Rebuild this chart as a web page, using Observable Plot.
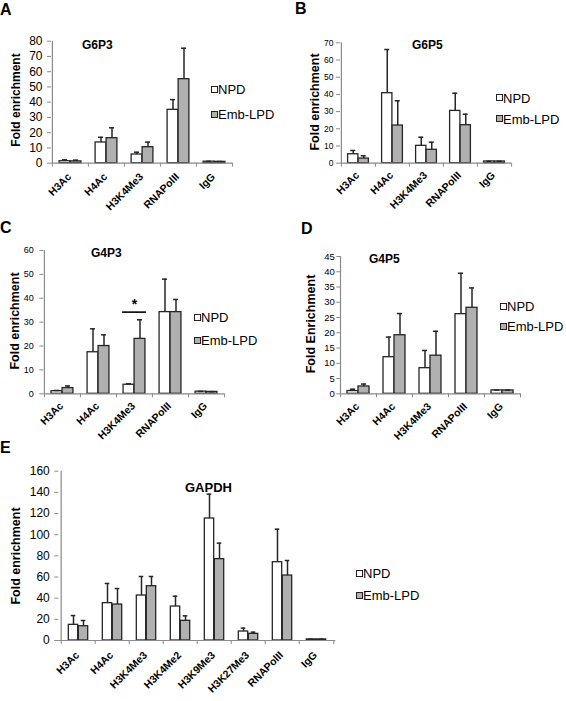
<!DOCTYPE html>
<html><head><meta charset="utf-8">
<script src="https://cdn.jsdelivr.net/npm/d3@7"></script>
<script src="https://cdn.jsdelivr.net/npm/@observablehq/plot@0.6"></script>
<style>
body{margin:0;background:#fff;font-family:"Liberation Sans",Arial,sans-serif;}
#page{position:relative;width:566px;height:701px;overflow:hidden;background:#fff;}
.abs{position:absolute;white-space:nowrap;line-height:1;color:#000;}
.panel{position:absolute;}
.sq{position:absolute;width:5px;height:5px;border:1px solid #222;}
</style></head><body><div id="page"></div>
<script>
// ---- data ----
const cats5 = ["H3Ac", "H4Ac", "H3K4Me3", "RNAPolII", "IgG"];
const cats8 = ["H3Ac", "H4Ac", "H3K4Me3", "H3K4Me2", "H3K9Me3", "H3K27Me3", "RNAPolII", "IgG"];
const series = ["NPD", "Emb-LPD"];

// A: G6P3
const aNPD = [1.3, 13.6, 5.7, 35.0, 1.0];
const aNPDerr = [0.9, 3.4, 1.5, 6.7, 0.2];
const aEmb = [1.2, 16.4, 10.5, 55.1, 0.9];
const aEmberr = [0.8, 6.8, 3.3, 20.3, 0.2];
// B: G6P5
const bNPD = [5.2, 40.7, 10.1, 30.4, 1.0];
const bNPDerr = [2.2, 25.4, 5.0, 10.3, 0.1];
const bEmb = [2.7, 21.9, 7.8, 22.1, 1.0];
const bEmberr = [1.6, 14.4, 4.4, 6.4, 0.1];
// C: G4P3
const cNPD = [1.1, 17.4, 3.8, 34.2, 0.9];
const cNPDerr = [0.3, 9.8, 0.4, 13.8, 0.1];
const cEmb = [2.4, 20.0, 23.0, 34.2, 0.8];
const cEmberr = [0.9, 4.7, 8.0, 5.3, 0.1];
const cSig = [{cat: "H3K4Me3", y: 34.2, label: "*"}];
// D: G4P5
const dNPD = [0.9, 12.0, 8.4, 26.1, 1.1];
const dNPDerr = [0.6, 6.6, 5.8, 13.4, 0.1];
const dEmb = [2.4, 19.2, 12.5, 28.2, 1.1];
const dEmberr = [0.8, 7.1, 8.0, 6.5, 0.1];
// E: GAPDH
const eNPD = [14.8, 35.3, 42.5, 32.1, 115.3, 8.5, 74.0, 1.0];
const eNPDerr = [8.8, 18.6, 18.0, 9.8, 23.0, 3.2, 31.2, 0.2];
const eEmb = [13.5, 34.0, 51.3, 18.6, 76.9, 6.3, 61.4, 1.0];
const eEmberr = [5.4, 15.1, 9.2, 4.7, 15.1, 1.6, 14.2, 0.2];

const ticksA = d3.range(0, 81, 10);
const ticksB = d3.range(0, 71, 10);
const ticksC = d3.range(0, 61, 10);
const ticksD = d3.range(0, 46, 5);
const ticksE = d3.range(0, 161, 20);

const page = document.getElementById("page");
const FONT = '"Liberation Sans", Arial, sans-serif';
const AXIS = "#8a8a8a";
const DARK = "#262626";
const GRAY = "#b0b0b0";

function panel(o) {
  const n = o.cats.length;
  const step = (o.width - o.mL - o.mR) / n;
  const half = step / 2;
  const bw = o.bw;
  const off = bw / 2;
  const capW = 2.6;
  const rowsN = o.cats.map((c, i) => ({cat: c, v: o.npd[i], e: o.npdErr[i]}));
  const rowsE = o.cats.map((c, i) => ({cat: c, v: o.emb[i], e: o.embErr[i]}));
  const marks = [
    Plot.barY(rowsN, {x: "cat", y: "v", fill: "#fff", stroke: DARK, strokeWidth: 1.3, insetLeft: half - bw, insetRight: half}),
    Plot.barY(rowsE, {x: "cat", y: "v", fill: GRAY, stroke: DARK, strokeWidth: 1.3, insetLeft: half, insetRight: half - bw}),
    Plot.ruleX(rowsN, {x: "cat", y1: "v", y2: d => d.v + d.e, dx: -off, stroke: DARK, strokeWidth: 1.5}),
    Plot.ruleX(rowsE, {x: "cat", y1: "v", y2: d => d.v + d.e, dx: off, stroke: DARK, strokeWidth: 1.5}),
    Plot.tickY(rowsN, {x: "cat", y: d => d.v + d.e, insetLeft: half - off - capW, insetRight: half + off - capW, stroke: DARK, strokeWidth: 1.5}),
    Plot.tickY(rowsE, {x: "cat", y: d => d.v + d.e, insetLeft: half + off - capW, insetRight: half - off - capW, stroke: DARK, strokeWidth: 1.5}),
    Plot.ruleY([0], {stroke: AXIS, strokeWidth: 1.2}),
    Plot.ruleX([o.cats[0]], {dx: -half, stroke: AXIS, strokeWidth: 1.2}),
    Plot.axisY({ticks: o.ticks, tickSize: 4, tickPadding: o.yPad, fontSize: o.yFont, stroke: AXIS, label: null}),
    Plot.axisX({tickSize: 4, tickFormat: () => "", dx: -half, stroke: AXIS, label: null}),
    Plot.axisX([o.cats[n - 1]], {tickSize: 4, tickFormat: () => "", dx: half, stroke: AXIS, label: null}),
    Plot.text(o.cats, {x: d => d, frameAnchor: "bottom", rotate: -45, textAnchor: "end", lineAnchor: "top",
      dx: -4, dy: o.xDy, fontSize: o.xFont, fontWeight: "bold", fill: "#000"})
  ];
  if (o.sig) {
    marks.push(Plot.tickY(o.sig, {x: "cat", y: "y", insetLeft: half - 12, insetRight: half - 12, stroke: "#000", strokeWidth: 1.6}));
    marks.push(Plot.text(o.sig, {x: "cat", y: "y", text: "label", dy: -8, fontSize: 14, fontWeight: "bold", lineAnchor: "middle"}));
  }
  const svg = Plot.plot({
    width: o.width, height: o.height,
    marginLeft: o.mL, marginRight: o.mR, marginTop: o.mT, marginBottom: o.mB,
    x: {domain: o.cats, padding: 0, label: null},
    y: {domain: [0, o.yMax], label: null},
    style: {fontFamily: FONT, background: "transparent", overflow: "visible", color: "#000"},
    marks
  });
  const div = document.createElement("div");
  div.className = "panel";
  div.style.left = o.left + "px";
  div.style.top = o.top + "px";
  div.style.width = o.width + "px";
  div.appendChild(svg);
  page.appendChild(div);
}

function txt(s, x, y, {size = 12, weight = "normal", rotate = false, center = false} = {}) {
  const d = document.createElement("div");
  d.className = "abs";
  d.textContent = s;
  d.style.fontSize = size + "px";
  d.style.fontWeight = weight;
  d.style.left = x + "px";
  d.style.top = y + "px";
  if (rotate) d.style.transform = "translate(-50%,-50%) rotate(-90deg)";
  else if (center) d.style.transform = "translate(-50%,-50%)";
  else d.style.transform = "translate(0,-50%)";
  page.appendChild(d);
}

function legend(x, y1, y2, size) {
  [[y1, "#fff", series[0]], [y2, GRAY, series[1]]].forEach(([y, fill, label]) => {
    const s = document.createElement("div");
    s.className = "sq";
    s.style.left = x + "px";
    s.style.top = (y - 3.5) + "px";
    s.style.background = fill;
    page.appendChild(s);
    txt(label, x + 7, y, {size});
  });
}

panel({cats: cats5, npd: aNPD, npdErr: aNPDerr, emb: aEmb, embErr: aEmberr, yMax: 80, ticks: ticksA,
  left: 0, top: 0, width: 283, height: 225, mL: 51, mR: 51, mT: 40.7, mB: 62.3, bw: 11, yFont: 12, yPad: 5, xFont: 10.5, xDy: 9});
panel({cats: cats5, npd: bNPD, npdErr: bNPDerr, emb: bEmb, embErr: bEmberr, yMax: 70, ticks: ticksB,
  left: 283, top: 0, width: 283, height: 225, mL: 57, mR: 55, mT: 42.3, mB: 62.3, bw: 10.5, yFont: 8.5, yPad: 3, xFont: 10.5, xDy: 7.5});
panel({cats: cats5, npd: cNPD, npdErr: cNPDerr, emb: cEmb, embErr: cEmberr, yMax: 60, ticks: ticksC, sig: cSig,
  left: 0, top: 215, width: 283, height: 230, mL: 43.3, mR: 59, mT: 35, mB: 51.7, bw: 11, yFont: 9, yPad: 6, xFont: 10.5, xDy: 7.5});
panel({cats: cats5, npd: dNPD, npdErr: dNPDerr, emb: dEmb, embErr: dEmberr, yMax: 45, ticks: ticksD,
  left: 283, top: 215, width: 283, height: 230, mL: 57.3, mR: 45.7, mT: 41, mB: 51.7, bw: 11, yFont: 9.5, yPad: 2, xFont: 10.5, xDy: 8});
panel({cats: cats8, npd: eNPD, npdErr: eNPDerr, emb: eEmb, embErr: eEmberr, yMax: 160, ticks: ticksE,
  left: 0, top: 440, width: 566, height: 261, mL: 58.3, mR: 230.7, mT: 30.7, mB: 61, bw: 10, yFont: 12, yPad: 5, xFont: 10.5, xDy: 10});

// panel letters
txt("A", 0, 10, {size: 16, weight: "bold"});
txt("B", 295, 8.5, {size: 16, weight: "bold"});
txt("C", 0, 228, {size: 16, weight: "bold"});
txt("D", 301, 229, {size: 16, weight: "bold"});
txt("E", 0, 448, {size: 16, weight: "bold"});
// titles
txt("G6P3", 82, 45, {size: 12, weight: "bold"});
txt("G6P5", 412, 45, {size: 12, weight: "bold"});
txt("G4P3", 91, 253, {size: 12, weight: "bold"});
txt("G4P5", 369, 259, {size: 12, weight: "bold"});
txt("GAPDH", 185, 486.5, {size: 13, weight: "bold"});
// y titles
txt("Fold enrichment", 16, 100, {size: 12, weight: "bold", rotate: true});
txt("Fold enrichment", 315, 102, {size: 12.5, weight: "bold", rotate: true});
txt("Fold enrichment", 15, 321, {size: 12.5, weight: "bold", rotate: true});
txt("Fold Enrichment", 311, 324, {size: 12.5, weight: "bold", rotate: true});
txt("Fold enrichment", 15.5, 555.5, {size: 12.5, weight: "bold", rotate: true});
// legends
legend(211, 89.3, 114.3, 13);
legend(496, 97.7, 118.7, 13);
legend(194, 317.3, 340, 13);
legend(500, 306, 326, 13);
legend(356, 573.3, 595.3, 13);
</script></body></html>
